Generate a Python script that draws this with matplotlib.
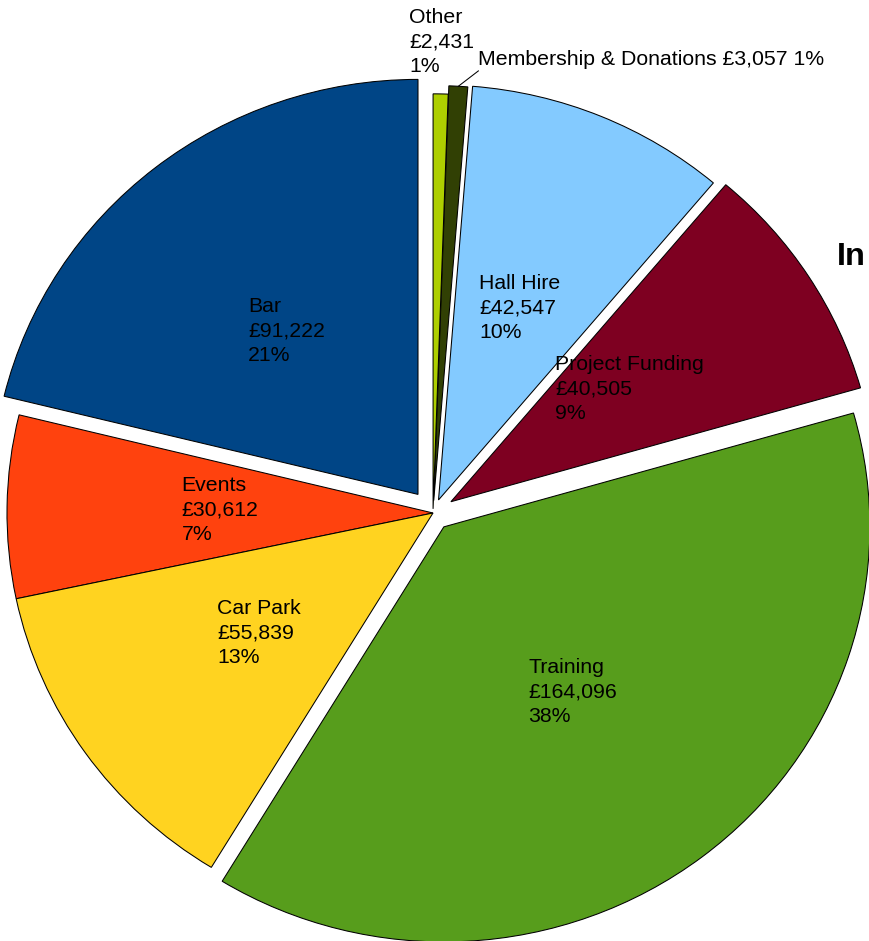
import matplotlib
matplotlib.use('Agg')
import matplotlib.pyplot as plt
import numpy as np

# ---- data ----
categories = ['Bar', 'Events', 'Car Park', 'Training', 'Project Funding',
              'Hall Hire', 'Membership & Donations', 'Other']
values = [91222, 30612, 55839, 164096, 40505, 42547, 3057, 2431]
title_text = 'In'   # the visible (cropped) part of the title

# ---- styles ----
colors = ['#004586', '#ff420e', '#ffd320', '#579d1c', '#7e0021',
          '#83caff', '#314004', '#aecf00']
explode = [0.057, 0.0, 0.0, 0.042, 0.05, 0.034, 0.03, 0.01]

plt.rcParams['font.family'] = ['Liberation Sans', 'DejaVu Sans']
FS = 15.3
LS = 1.37

W, H = 869, 941
fig = plt.figure(figsize=(W / 100, H / 100), dpi=100)
# pie centre at (433, 513) px, x-radius 426 px, y-radius 415 px
ax = fig.add_axes([(433 - 426) / W, (H - (513 + 415)) / H, 852 / W, 830 / H])

wedges, _ = ax.pie(values, colors=colors, explode=explode, startangle=90,
                   counterclock=True, radius=1,
                   wedgeprops=dict(edgecolor='black', linewidth=0.75))
ax.set_aspect('auto')
ax.set_xlim(-1, 1)
ax.set_ylim(-1, 1)
ax.axis('off')
for w in wedges:
    w.set_clip_on(False)

total = sum(values)
for i, w in enumerate(wedges):
    mid = np.deg2rad((w.theta1 + w.theta2) / 2)
    cx, cy = w.center
    pct = round(100 * values[i] / total)
    if categories[i] == 'Other':
        txt = f"{categories[i]}\n£{values[i]:,}\n{pct}%"
        ax.text(1.135 * np.cos(mid), 1.135 * np.sin(mid), txt, ha='center',
                va='center', multialignment='left', fontsize=FS,
                linespacing=LS, clip_on=False)
    elif categories[i] == 'Membership & Donations':
        txt = f"{categories[i]} £{values[i]:,} {pct}%"
        x0, y0 = cx + np.cos(mid), cy + np.sin(mid)
        x1, y1 = x0 + 0.047, y0 + 0.037
        ax.plot([x0, x1], [y0, y1], color='black', lw=0.75, clip_on=False)
        ax.text(x1, y1 + 0.028, txt, ha='left', va='center', fontsize=FS,
                clip_on=False)
    else:
        txt = f"{categories[i]}\n£{values[i]:,}\n{pct}%"
        ax.text(cx + 0.5 * np.cos(mid), cy + 0.5 * np.sin(mid), txt,
                ha='center', va='center', multialignment='left',
                fontsize=FS, linespacing=LS)

fig.text(836.7 / W, 1 - 265 / H, title_text, fontsize=23.4, fontweight='bold',
         ha='left', va='baseline')

fig.savefig('out.png', dpi=100)
